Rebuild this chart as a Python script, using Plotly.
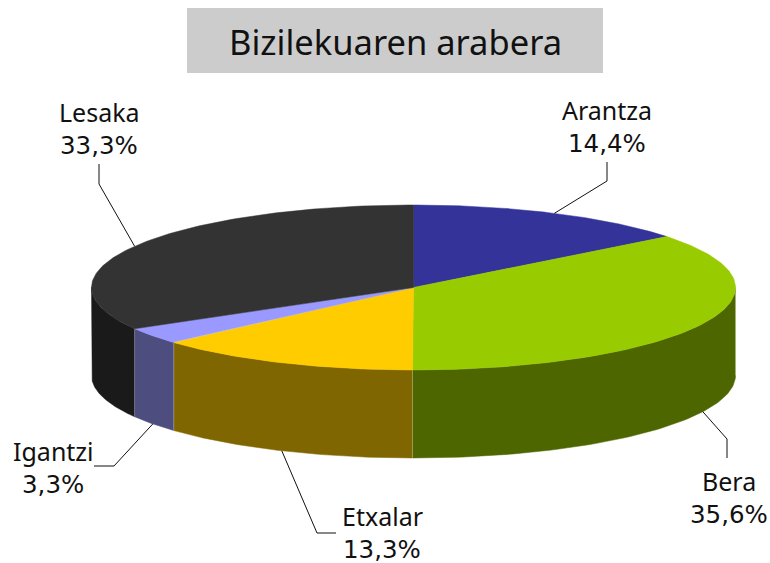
import numpy as np
import plotly.graph_objects as go

title = "Bizilekuaren arabera"
categories = ["Arantza", "Bera", "Etxalar", "Igantzi", "Lesaka"]
values = [14.4, 35.6, 13.3, 3.3, 33.3]
value_labels = ["14,4%", "35,6%", "13,3%", "3,3%", "33,3%"]
top_colors = ["#333399", "#99CC00", "#FFCC00", "#9999FF", "#333333"]
side_colors = ["#1A1A4D", "#4D6600", "#806600", "#4D4D80", "#1A1A1A"]

# canvas geometry (pixels)
W, H = 770, 563
CX, CY, RX, RY, DEPTH = 413.5, 287.5, 322, 82.5, 88
FONT = "Noto Sans"
NUM_FONT = "DejaVu Sans"
# label centre (x, y of first line) and leader elbow / end, per category
label_xy = [(607, 110), (729, 481), (382, 516), (53, 451), (99, 112)]
leader_elbow = [(607, 181), (727, 439), (317, 533), (114, 466), (99, 184)]
leader_end = [(607, 162), (727, 458), (336, 533), (94, 466), (99, 164)]
FRONT_CATS = {1, 2, 3}


def ell(t_deg, dy=0.0):
    t = np.radians(t_deg)
    return CX + RX * np.sin(t), CY - RY * np.cos(t) + dy


total = sum(values)
edges = np.concatenate([[0], np.cumsum(values)]) * 360.0 / total

fig = go.Figure()

# side walls (front half of the rim only)
for i, color in enumerate(side_colors):
    a, b = max(edges[i], 90), min(edges[i + 1], 270)
    if a >= b:
        continue
    t = np.linspace(a, b, 80)
    x0, y0 = ell(t)
    x1, y1 = ell(t[::-1], DEPTH)
    fig.add_trace(go.Scatter(
        x=np.r_[x0, x1], y=np.r_[y0, y1], mode="lines", fill="toself",
        fillcolor=color, line=dict(width=0.5, color=color),
        hoverinfo="skip", showlegend=False))

# thin light seams between wall panels
for e in edges[1:-1]:
    if 90 < e < 270:
        x0, y0 = ell(e)
        x1, y1 = ell(e, DEPTH)
        fig.add_trace(go.Scatter(
            x=[x0, x1], y=[y0, y1], mode="lines",
            line=dict(width=1, color="rgba(255,255,255,0.25)"),
            hoverinfo="skip", showlegend=False))

# top face
for i, color in enumerate(top_colors):
    t = np.linspace(edges[i], edges[i + 1], 120)
    x0, y0 = ell(t)
    fig.add_trace(go.Scatter(
        x=np.r_[CX, x0, CX], y=np.r_[CY, y0, CY], mode="lines", fill="toself",
        fillcolor=color, line=dict(width=0.5, color=color),
        hoverinfo="skip", showlegend=False))

# leaders, anchored at each slice's mid-angle
for i in range(len(values)):
    mid = (edges[i] + edges[i + 1]) / 2
    ax, ay = ell(mid, DEPTH if i in FRONT_CATS else 0)
    ex, ey = leader_elbow[i]
    fx, fy = leader_end[i]
    fig.add_trace(go.Scatter(
        x=[ax, ex, fx], y=[ay, ey, fy], mode="lines",
        line=dict(width=1, color="#111111"),
        hoverinfo="skip", showlegend=False))

# labels
annotations = [dict(
    x=395, y=41, xref="x", yref="y", text=title, showarrow=False,
    font=dict(family=FONT, size=34.5, color="#111111"),
    xanchor="center", yanchor="middle")]
for i, name in enumerate(categories):
    lx, ly = label_xy[i]
    annotations.append(dict(
        x=lx, y=ly, xref="x", yref="y", text=name, showarrow=False,
        font=dict(family=FONT, size=25, color="#111111"),
        xanchor="center", yanchor="middle"))
    annotations.append(dict(
        x=lx, y=ly + 33, xref="x", yref="y", text=value_labels[i], showarrow=False,
        font=dict(family=NUM_FONT, size=24.5, color="#111111"),
        xanchor="center", yanchor="middle"))

fig.update_layout(
    width=W, height=H, autosize=False,
    margin=dict(l=0, r=0, t=0, b=0),
    paper_bgcolor="white", plot_bgcolor="white",
    xaxis=dict(range=[0, W], visible=False, fixedrange=True),
    yaxis=dict(range=[H, 0], visible=False, fixedrange=True),
    shapes=[dict(type="rect", xref="x", yref="y", x0=187, x1=603, y0=8, y1=73,
                 fillcolor="#CCCCCC", line=dict(width=0), layer="below")],
    annotations=annotations,
)
fig.write_html(
    "out.html",
    config={"displayModeBar": False},
    post_script="document.body.style.margin='0';document.body.style.overflow='hidden';",
)
